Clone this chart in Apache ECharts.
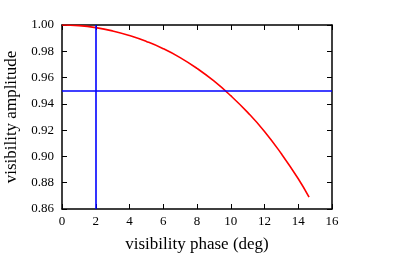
<!DOCTYPE html>
<html>
<head>
<meta charset="utf-8">
<script src="https://cdn.jsdelivr.net/npm/echarts@6/dist/echarts.min.js"></script>
<style>html,body{margin:0;padding:0;background:#fff;}#c{width:415px;height:256px;}</style>
</head>
<body>
<div id="c"></div>
<script>
const phaseDeg = [0, 1, 2, 3, 4, 5, 6, 7, 8, 9, 10, 11, 12, 13, 14, 14.64];
const amplitude = [1.000, 0.9995, 0.998, 0.9955, 0.992, 0.9875, 0.982, 0.9752, 0.967, 0.9574, 0.9462, 0.9335, 0.919, 0.902, 0.883, 0.869];
const refPhase = 2;
const refAmplitude = 0.95;
const xTitle = 'visibility phase (deg)';
const yTitle = 'visibility amplitude';

const font = 'Liberation Serif';
const chart = echarts.init(document.getElementById('c'), null, {renderer: 'canvas'});
const axisLine = {show: true, onZero: false, lineStyle: {color: '#000', width: 1.5}};
const tickIn = {show: true, inside: true, length: 5, lineStyle: {color: '#000', width: 1}};
chart.setOption({
  animation: false,
  backgroundColor: '#fff',
  grid: {left: 62, right: 83, top: 25, bottom: 47, containLabel: false, outerBoundsMode: 'none'},
  xAxis: [{
    type: 'value', min: 0, max: 16, interval: 2, position: 'bottom',
    name: xTitle, nameLocation: 'middle', nameGap: 27,
    nameTextStyle: {fontFamily: font, fontSize: 17, color: '#000'},
    axisLine: axisLine, axisTick: tickIn, splitLine: {show: false},
    axisLabel: {fontFamily: font, fontSize: 13, color: '#000', margin: 6}
  }, {
    type: 'value', min: 0, max: 16, interval: 2, position: 'top',
    axisLine: axisLine, axisTick: tickIn, splitLine: {show: false}, axisLabel: {show: false}
  }],
  yAxis: [{
    type: 'value', min: 0.86, max: 1.00, interval: 0.02, position: 'left',
    name: yTitle, nameLocation: 'middle', nameGap: 40, nameRotate: 90,
    nameTextStyle: {fontFamily: font, fontSize: 17, color: '#000'},
    axisLine: axisLine, axisTick: tickIn, splitLine: {show: false},
    axisLabel: {fontFamily: font, fontSize: 13, color: '#000', margin: 8,
      formatter: v => v.toFixed(2)}
  }, {
    type: 'value', min: 0.86, max: 1.00, interval: 0.02, position: 'right',
    axisLine: axisLine, axisTick: tickIn, splitLine: {show: false}, axisLabel: {show: false}
  }],
  series: [{
    type: 'line',
    data: phaseDeg.map((x, i) => [x, amplitude[i]]),
    smooth: 0.5,
    showSymbol: false,
    lineStyle: {color: '#ff0000', width: 1.6},
    z: 3
  }, {
    type: 'line',
    data: [],
    markLine: {
      silent: true, symbol: ['none', 'none'], label: {show: false},
      lineStyle: {color: '#0000ff', width: 1.6, type: 'solid'},
      data: [{xAxis: refPhase}, {yAxis: refAmplitude}]
    },
    z: 2
  }]
});
</script>
</body>
</html>
